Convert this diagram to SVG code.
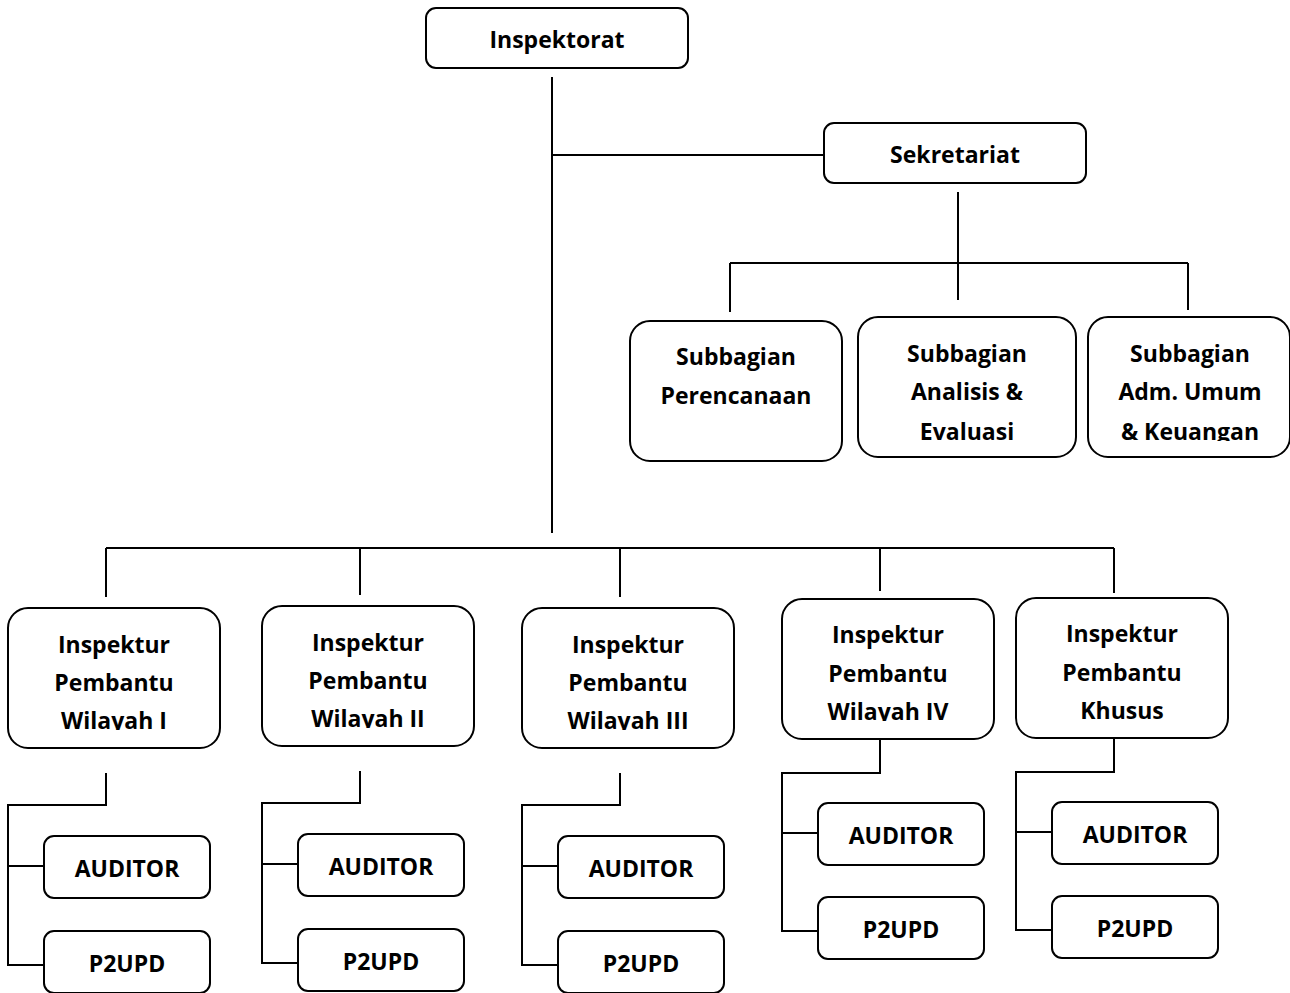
<svg xmlns="http://www.w3.org/2000/svg" width="1290" height="993" viewBox="0 0 1290 993">
<style>
.box{fill:#fff;stroke:#000;stroke-width:2}
.ln{fill:none;stroke:#000;stroke-width:2}
text{font-family:"Open Sans","Liberation Sans",sans-serif;font-weight:700;font-size:23px;fill:#000;text-anchor:middle}
</style>
<defs>
<clipPath id="c1"><rect x="0" y="600" width="1290" height="130"/></clipPath>
<clipPath id="c2"><rect x="0" y="600" width="1290" height="128"/></clipPath>
<clipPath id="c4"><rect x="0" y="590" width="1290" height="131"/></clipPath>
<clipPath id="cs"><rect x="0" y="310" width="1290" height="131"/></clipPath>
</defs>
<g id="connectors">
<path class="ln" d="M552 77V533M552 155H824M958 192V300M730 263H1188M730 263V312M1188 263V310M106 548H1114M106 548V597M360 548V595M620 548V597M880 548V591M1114 548V593"/>
<path class="ln" d="M106 773V805H8V965H44M8 866H44"/>
<path class="ln" d="M360 771V803H262V963H298M262 864H298"/>
<path class="ln" d="M620 773V805H522V965H558M522 866H558"/>
<path class="ln" d="M880 739V773H782V931H818M782 833H818"/>
<path class="ln" d="M1114 738V772H1016V930H1052M1016 832H1052"/>
</g>
<g id="inspektorat"><rect class="box" x="426" y="8" width="262" height="60" rx="10"/><text x="557" y="48">Inspektorat</text></g>
<g id="sekretariat"><rect class="box" x="824" y="123" width="262" height="60" rx="10"/><text x="955" y="163">Sekretariat</text></g>
<g id="sub-perencanaan"><rect class="box" x="630" y="321" width="212" height="140" rx="20"/><text x="736" y="365">Subbagian</text><text x="736" y="404">Perencanaan</text></g>
<g id="sub-analisis"><rect class="box" x="858" y="317" width="218" height="140" rx="20"/><g clip-path="url(#cs)"><text x="967" y="362">Subbagian</text><text x="967" y="400">Analisis &amp;</text><text x="967" y="440">Evaluasi</text></g></g>
<g id="sub-adm"><rect class="box" x="1088" y="317" width="202" height="140" rx="20"/><g clip-path="url(#cs)"><text x="1190" y="362">Subbagian</text><text x="1190" y="400">Adm. Umum</text><text x="1190" y="440">&amp; Keuangan</text></g></g>
<g id="irban1"><rect class="box" x="8" y="608" width="212" height="140" rx="20"/><g clip-path="url(#c1)"><text x="114" y="653">Inspektur</text><text x="114" y="691">Pembantu</text><text x="114" y="729">Wilayah I</text></g></g>
<g id="irban2"><rect class="box" x="262" y="606" width="212" height="140" rx="20"/><g clip-path="url(#c2)"><text x="368" y="651">Inspektur</text><text x="368" y="689">Pembantu</text><text x="368" y="727">Wilayah II</text></g></g>
<g id="irban3"><rect class="box" x="522" y="608" width="212" height="140" rx="20"/><g clip-path="url(#c1)"><text x="628" y="653">Inspektur</text><text x="628" y="691">Pembantu</text><text x="628" y="729">Wilayah III</text></g></g>
<g id="irban4"><rect class="box" x="782" y="599" width="212" height="140" rx="20"/><g clip-path="url(#c4)"><text x="888" y="643">Inspektur</text><text x="888" y="682">Pembantu</text><text x="888" y="720">Wilayah IV</text></g></g>
<g id="irban5"><rect class="box" x="1016" y="598" width="212" height="140" rx="20"/><text x="1122" y="642">Inspektur</text><text x="1122" y="681">Pembantu</text><text x="1122" y="719">Khusus</text></g>
<g id="auditor1"><rect class="box" x="44" y="836" width="166" height="62" rx="10"/><text x="127" y="877">AUDITOR</text></g>
<g id="p2upd1"><rect class="box" x="44" y="931" width="166" height="62" rx="10"/><text x="127" y="972">P2UPD</text></g>
<g id="auditor2"><rect class="box" x="298" y="834" width="166" height="62" rx="10"/><text x="381" y="875">AUDITOR</text></g>
<g id="p2upd2"><rect class="box" x="298" y="929" width="166" height="62" rx="10"/><text x="381" y="970">P2UPD</text></g>
<g id="auditor3"><rect class="box" x="558" y="836" width="166" height="62" rx="10"/><text x="641" y="877">AUDITOR</text></g>
<g id="p2upd3"><rect class="box" x="558" y="931" width="166" height="62" rx="10"/><text x="641" y="972">P2UPD</text></g>
<g id="auditor4"><rect class="box" x="818" y="803" width="166" height="62" rx="10"/><text x="901" y="844">AUDITOR</text></g>
<g id="p2upd4"><rect class="box" x="818" y="897" width="166" height="62" rx="10"/><text x="901" y="938">P2UPD</text></g>
<g id="auditor5"><rect class="box" x="1052" y="802" width="166" height="62" rx="10"/><text x="1135" y="843">AUDITOR</text></g>
<g id="p2upd5"><rect class="box" x="1052" y="896" width="166" height="62" rx="10"/><text x="1135" y="937">P2UPD</text></g>
</svg>
